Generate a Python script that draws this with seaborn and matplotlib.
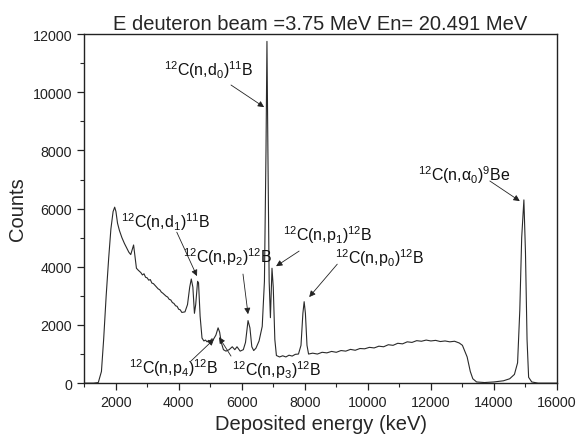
import matplotlib
matplotlib.use("Agg")
import matplotlib.pyplot as plt
import seaborn as sns
import pandas as pd

# Spectrum (deposited energy in keV, counts)
energy = [1000, 1300, 1450, 1550, 1620, 1700, 1780, 1850, 1920, 1970, 2010, 2060,
          2120, 2200, 2280, 2350, 2420, 2480, 2530, 2570, 2610, 2660, 2720, 2800,
          2850, 2900, 2950, 3000, 3050, 3100, 3150, 3200, 3250, 3300, 3350, 3400,
          3450, 3500, 3550, 3600, 3650, 3700, 3750, 3800, 3850, 3900, 3950, 4000,
          4050, 4100, 4200, 4280, 4350, 4400, 4450, 4500, 4540, 4600, 4630, 4680,
          4740, 4800, 4850, 4900, 4950, 5000, 5050, 5100, 5180, 5250, 5300, 5350,
          5420, 5500, 5600, 5700, 5780, 5850, 5950, 6050, 6120, 6200, 6260, 6320,
          6380, 6450, 6550, 6650, 6720, 6770, 6800, 6830, 6870, 6910, 6960, 7000,
          7050, 7100, 7200, 7300, 7400, 7500, 7600, 7700, 7800, 7880, 7940, 7980,
          8020, 8070, 8120, 8250, 8400, 8550, 8700, 8850, 9000, 9150, 9300, 9450,
          9600, 9750, 9900, 10050, 10200, 10350, 10500, 10650, 10800, 10950, 11100,
          11250, 11400, 11550, 11700, 11850, 12000, 12150, 12300, 12450, 12600,
          12750, 12900, 13000, 13150, 13250, 13330, 13450, 13700, 14000, 14300,
          14500, 14650, 14750, 14820, 14880, 14950, 15000, 15050, 15100, 15200,
          15400, 16000]
counts = [0, 0, 20, 400, 1500, 3000, 4300, 5300, 5900, 6050, 5900, 5500,
          5250, 5000, 4800, 4650, 4500, 4420, 4600, 4750, 4400, 3950, 3880, 3800,
          3720, 3760, 3640, 3620, 3540, 3560, 3440, 3420, 3360, 3300, 3240, 3210,
          3130, 3090, 3040, 2990, 2960, 2880, 2860, 2770, 2740, 2660, 2640, 2540,
          2520, 2430, 2450, 2700, 3300, 3580, 3300, 2400, 2700, 3500, 3450, 2300,
          1550, 1450, 1480, 1420, 1470, 1450, 1520, 1500, 1650, 1900, 1750, 1400,
          1150, 1100, 1150, 1250, 1150, 1250, 1100, 1150, 1400, 2150, 1900, 1250,
          1120, 1200, 1450, 1950, 3500, 8000, 11750, 8000, 3500, 2250, 3950, 3300,
          1500, 950, 900, 940, 900, 960, 930, 990, 1000, 1300, 2400, 2800,
          2400, 1300, 1000, 1030, 1000, 1060, 1040, 1090, 1060, 1120, 1100, 1160,
          1130, 1190, 1180, 1230, 1210, 1270, 1250, 1320, 1300, 1370, 1350,
          1420, 1400, 1460, 1440, 1480, 1450, 1470, 1430, 1450, 1420,
          1440, 1380, 1300, 900, 400, 150, 40, 20, 40, 80,
          150, 300, 700, 2500, 5000, 6300, 4500, 1500, 200, 40,
          0, 0]

# Annotations: label, arrow head (E, counts), text centre (E, counts), arrow tail
labels = [r"$^{12}$C(n,d$_0$)$^{11}$B", r"$^{12}$C(n,d$_1$)$^{11}$B",
          r"$^{12}$C(n,p$_2$)$^{12}$B", r"$^{12}$C(n,p$_1$)$^{12}$B",
          r"$^{12}$C(n,p$_0$)$^{12}$B", r"$^{12}$C(n,$\alpha_0$)$^{9}$Be",
          r"$^{12}$C(n,p$_4$)$^{12}$B", r"$^{12}$C(n,p$_3$)$^{12}$B"]
head_e = [6710, 4580, 6200, 7090, 8140, 14820, 5120, 5280]
head_c = [9490, 3680, 2370, 4020, 2960, 6260, 1510, 1580]
text_e = [4960, 3590, 5560, 8710, 10370, 13070, 3850, 7090]
text_c = [10800, 5570, 4370, 5120, 4330, 7190, 550, 480]
tail_e = [5660, 3940, 6040, 7820, 9030, 13870, 4390, 5660]
tail_c = [10250, 5190, 3750, 4540, 4090, 6950, 760, 930]

sns.set_style("ticks")
plt.rcParams["font.family"] = ["Liberation Sans", "DejaVu Sans"]
plt.rcParams["mathtext.default"] = "regular"

fig = plt.figure(figsize=(5.76, 4.39), dpi=100)
ax = fig.add_axes([0.146, 0.125, 0.821, 0.795])

df = pd.DataFrame({"energy": energy, "counts": counts})
sns.lineplot(data=df, x="energy", y="counts", ax=ax, color="#2a2a2a",
             linewidth=0.8, estimator=None, sort=False)

for lab, he, hc, te, tc, ae, ac in zip(labels, head_e, head_c, text_e, text_c,
                                       tail_e, tail_c):
    ax.text(te, tc, lab, ha="center", va="center", fontsize=11.5, color="#111111")
    ax.annotate("", xy=(he, hc), xytext=(ae, ac),
                arrowprops=dict(arrowstyle="-|>", color="#222222", lw=0.6,
                                mutation_scale=9, shrinkA=0, shrinkB=0))

ax.set_xlim(1000, 16000)
ax.set_ylim(0, 12000)
ax.set_xticks([2000, 4000, 6000, 8000, 10000, 12000, 14000, 16000])
ax.set_yticks([0, 2000, 4000, 6000, 8000, 10000, 12000])
ax.set_xticks(range(1000, 16001, 1000), minor=True)
ax.set_yticks(range(0, 12001, 1000), minor=True)
ax.tick_params(axis="both", which="major", direction="out", length=5, width=0.9,
               labelsize=10.3, colors="#222222")
ax.tick_params(axis="both", which="minor", direction="out", length=3, width=0.8)
for s in ax.spines.values():
    s.set_visible(True)
    s.set_linewidth(1.0)
    s.set_color("#222222")

ax.set_xlabel("Deposited energy (keV)", fontsize=14.5, labelpad=4)
ax.set_ylabel("Counts", fontsize=14.5, labelpad=4)
ax.set_title("E deuteron beam =3.75 MeV En= 20.491 MeV", fontsize=14.5, pad=4)

fig.savefig("out.png", dpi=100)
